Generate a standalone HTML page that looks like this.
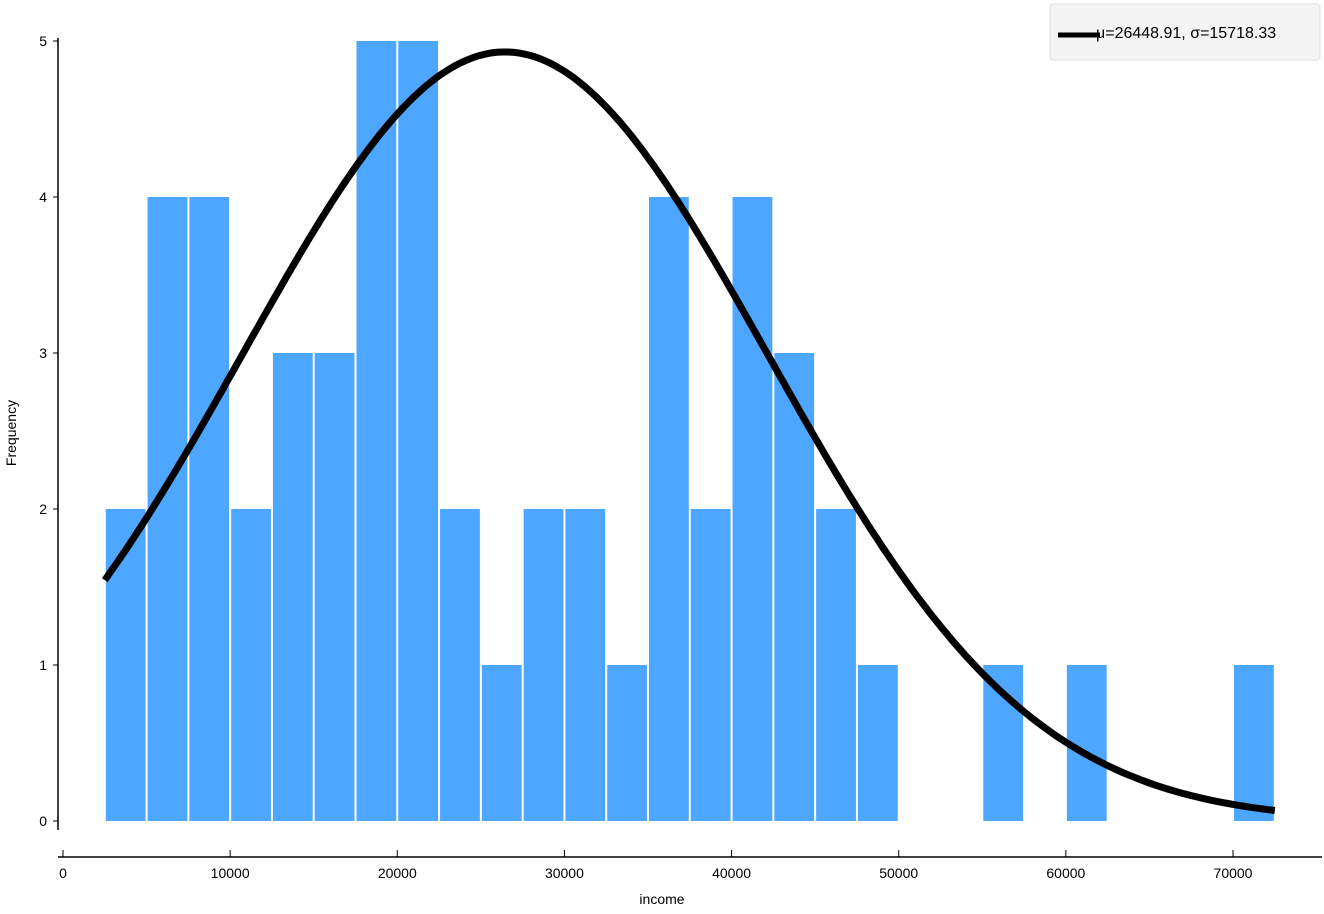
<!DOCTYPE html>
<html><head><meta charset="utf-8"><style>
body{margin:0;background:#fff;font-family:"Liberation Sans","DejaVu Sans",sans-serif;}
svg text{font-family:"Liberation Sans","DejaVu Sans",sans-serif;}
</style></head><body>
<svg id="c" width="1324" height="909"></svg>
<script>
const binStarts=[2500,5000,7500,10000,12500,15000,17500,20000,22500,25000,27500,30000,32500,35000,37500,40000,42500,45000,47500,55000,60000,70000];
const counts=[2,4,4,2,3,3,5,5,2,1,2,2,1,4,2,4,3,2,1,1,1,1];
const binWidth=2500;
const xTicks=[0,10000,20000,30000,40000,50000,60000,70000];
const yTicks=[0,1,2,3,4,5];
const mu=26448.91, sigma=15718.33, curvePeak=4.93;
const svg=document.getElementById('c');
const NS='http://www.w3.org/2000/svg';
const X=v=>63+v*(1170/70000);
const Y=v=>821-v*156;
function mk(t,a,p){const e=document.createElementNS(NS,t);for(const k in a)e.setAttribute(k,a[k]);(p||svg).appendChild(e);return e;}
binStarts.forEach((s,i)=>{
 const r=mk('rect',{x:X(s)+1,y:Y(counts[i]),width:X(s+binWidth)-X(s)-2,height:Y(0)-Y(counts[i]),fill:'#4da6ff'});
 
 
});
const ya=mk('line',{x1:58,y1:38,x2:58,y2:830,stroke:'#000','stroke-width':1.5});

const xa=mk('line',{x1:58,y1:857,x2:1322,y2:857,stroke:'#000','stroke-width':1.5});

yTicks.forEach(v=>{
 mk('line',{x1:53,y1:Y(v),x2:58,y2:Y(v),stroke:'#000'});
 const t=mk('text',{x:47,y:Y(v)+5,'text-anchor':'end','font-size':14});t.textContent=v;
 
});
xTicks.forEach(v=>{
 mk('line',{x1:X(v),y1:850,x2:X(v),y2:857,stroke:'#000'});
 const t=mk('text',{x:X(v),y:878,'text-anchor':'middle','font-size':14});t.textContent=v;
 
});
const xt=mk('text',{x:662,y:904,'text-anchor':'middle','font-size':14});xt.textContent='income';

const yt=mk('text',{x:16,y:433,'text-anchor':'middle','font-size':14,transform:'rotate(-90 16 433)'});yt.textContent='Frequency';

let d='';
for(let i=0;i<=200;i++){const x=2500+i*(70000/200);const y=curvePeak*Math.exp(-0.5*((x-mu)/sigma)**2);d+=(i?'L':'M')+X(x).toFixed(1)+' '+Y(y).toFixed(1);}
const cp=mk('path',{d:d,fill:'none',stroke:'#000','stroke-width':7});

const lg=mk('g',{});

mk('rect',{x:1050,y:4,width:270,height:56,rx:3,fill:'#f4f4f4',stroke:'#ddd'},lg);
mk('line',{x1:1058,y1:35,x2:1100,y2:35,stroke:'#000','stroke-width':5},lg);
const lt=mk('text',{x:1096,y:38,'font-size':16},lg);lt.textContent='μ=26448.91, σ=15718.33';

</script>
</body></html>
